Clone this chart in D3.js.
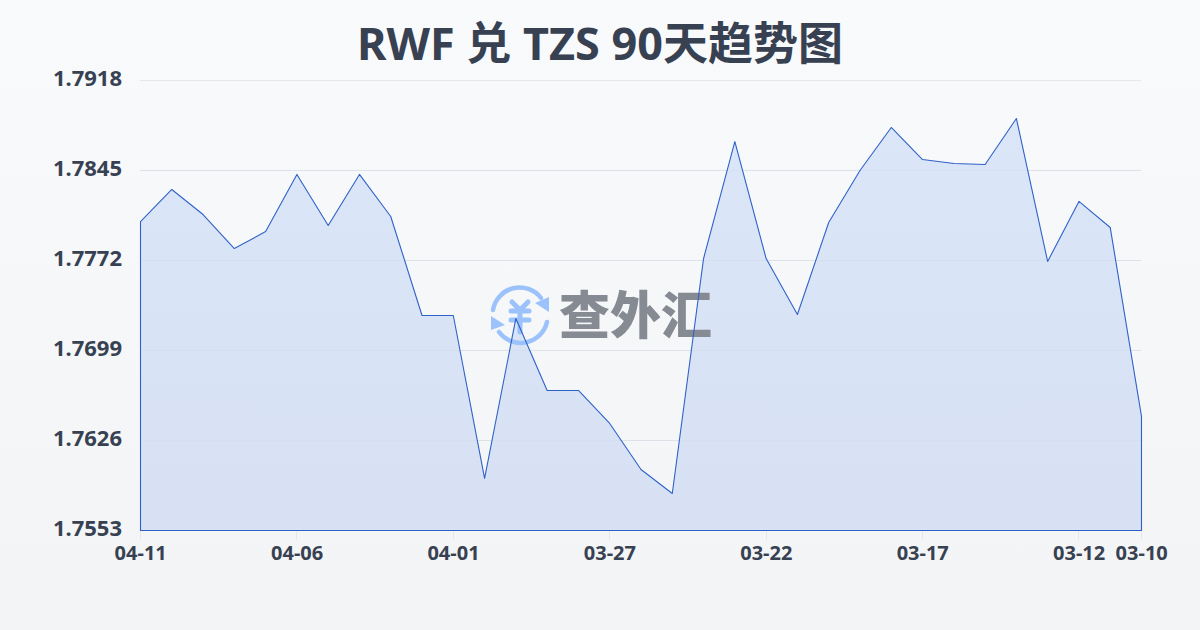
<!DOCTYPE html>
<html><head><meta charset="utf-8">
<style>html,body{margin:0;padding:0;background:#f8fafc}svg{display:block}</style>
<script src="https://cdn.jsdelivr.net/npm/d3@7/dist/d3.min.js"></script>
</head><body><div id="c"></div>
<script>
const titleText = "RWF 兑 TZS 90天趋势图";
const dates = ["04-11","04-10","04-09","04-08","04-07","04-06","04-05","04-04","04-03","04-02","04-01","03-31","03-30","03-29","03-28","03-27","03-26","03-25","03-24","03-23","03-22","03-21","03-20","03-19","03-18","03-17","03-16","03-15","03-14","03-13","03-12","03-11","03-10"];
const rates = [1.78036,1.78296,1.78093,1.77817,1.77955,1.78418,1.78004,1.78418,1.78077,1.77274,1.77274,1.75952,1.7725,1.76666,1.76666,1.76398,1.76025,1.7583,1.77736,1.78685,1.77736,1.77282,1.78028,1.7845,1.78799,1.78539,1.78507,1.78499,1.78872,1.77712,1.78199,1.77988,1.76455];
const yTicks = [1.7918,1.7845,1.7772,1.7699,1.7626,1.7553];
const xTicks = ["04-11","04-06","04-01","03-27","03-22","03-17","03-12","03-10"];
const font = "'Noto Sans','Noto Sans CJK SC',sans-serif";
const W=1200,H=630,L=140,R=1141,T=80,B=530;
const svg=d3.select("#c").append("svg").attr("width",W).attr("height",H);
const defs=svg.append("defs");
const bg=defs.append("linearGradient").attr("id","bg").attr("x1",0).attr("y1",0).attr("x2",0).attr("y2",1);
bg.append("stop").attr("offset",0).attr("stop-color","#f8fafc");
bg.append("stop").attr("offset",1).attr("stop-color","#f3f4f6");
const fg=defs.append("linearGradient").attr("id","fg").attr("gradientUnits","userSpaceOnUse").attr("x1",0).attr("y1",T).attr("x2",0).attr("y2",B);
fg.append("stop").attr("offset",0).attr("stop-color","#dbe6f9");
fg.append("stop").attr("offset",1).attr("stop-color","#d8e1f4");
svg.append("rect").attr("width",W).attr("height",H).attr("fill","url(#bg)");

const x=d3.scalePoint().domain(dates).range([L,R]);
const y=d3.scaleLinear().domain([yTicks[yTicks.length-1],yTicks[0]]).range([B,T]);

svg.append("text").text(titleText).attr("x",600).attr("y",60).attr("text-anchor","middle")
  .attr("font-family",font).attr("font-weight",700).attr("font-size",45).attr("fill","#374151");

// grid
svg.append("g").selectAll("line").data(yTicks).join("line")
  .attr("x1",L).attr("x2",R).attr("y1",d=>Math.round(y(d))+.5).attr("y2",d=>Math.round(y(d))+.5)
  .attr("stroke","#e5e7eb").attr("stroke-width",1);

// area
const area=d3.area().x(d=>x(d.k)).y0(B).y1(d=>y(d.v));
const pts=dates.map((k,i)=>({k,v:rates[i]}));
svg.append("path").attr("d",area(pts)).attr("transform","translate(.5,.5)").attr("fill","url(#fg)");
svg.append("g").selectAll("line").data(yTicks.slice(1,-1)).join("line")
  .attr("x1",L).attr("x2",R).attr("y1",d=>Math.round(y(d))+.5).attr("y2",d=>Math.round(y(d))+.5)
  .attr("stroke","#cbd5e1").attr("stroke-opacity",.3);

// watermark
const wm=svg.append("g");
const logoColor="#9cc2fb";
const lg=wm.append("g").attr("transform","translate(520,315)").attr("fill","none").attr("stroke",logoColor);
lg.append("path").attr("d","M-27,-5 A27,27 0 0 1 21,-17").attr("stroke-width",4.5).attr("stroke-linecap","round");
lg.append("path").attr("d","M27,7 A27,27 0 0 1 -21,17").attr("stroke-width",4.5).attr("stroke-linecap","round");
lg.append("path").attr("d","M29,-18 L29,-3 L15,-12 Z").attr("fill",logoColor).attr("stroke","none");
lg.append("path").attr("d","M-29,1 L-29,15 L-15,10 Z").attr("fill",logoColor).attr("stroke","none");
lg.append("path").attr("d","M-8,-13 L0,-5 L8,-13 M0,-5 L0,17 M-9,-4 L9,-4 M-9,5 L9,5").attr("stroke-width",5).attr("stroke-linecap","round").attr("stroke-linejoin","round");
wm.append("text").text("查外汇").attr("x",559).attr("y",334).attr("font-family",font).attr("font-weight",900)
  .attr("font-size",51).attr("fill","#858a93");

// outline
svg.append("path").attr("d",area(pts)).attr("transform","translate(.5,.5)").attr("fill","none").attr("stroke","#2f62c9").attr("stroke-width",1.1).attr("stroke-linejoin","round");

// y labels
svg.append("g").selectAll("text").data(yTicks).join("text").text(d=>d.toFixed(4))
  .attr("x",122).attr("y",d=>y(d)+6).attr("text-anchor","end").attr("font-family",font)
  .attr("font-weight",700).attr("font-size",22).attr("fill","#374151");

// x ticks & labels
const xg=svg.append("g");
xg.selectAll("line").data(xTicks).join("line")
  .attr("x1",d=>Math.round(x(d))+.5).attr("x2",d=>Math.round(x(d))+.5).attr("y1",B+1).attr("y2",B+10)
  .attr("stroke","#e5e7eb");
xg.selectAll("text").data(xTicks).join("text").text(d=>d)
  .attr("x",d=>x(d)+.7).attr("y",560).attr("text-anchor","middle").attr("font-family",font)
  .attr("font-weight",700).attr("font-size",20).attr("fill","#374151");
</script></body></html>
